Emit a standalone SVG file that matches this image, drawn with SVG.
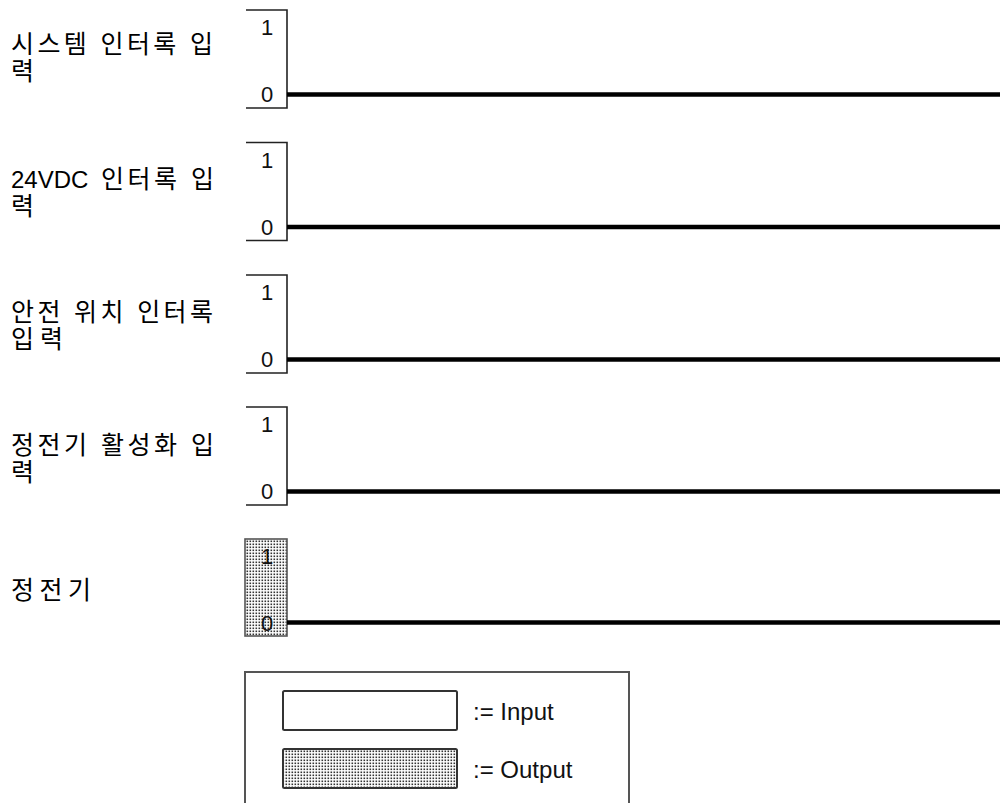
<svg xmlns="http://www.w3.org/2000/svg" width="1000" height="803" viewBox="0 0 1000 803">
<defs>
<pattern id="dots" width="3" height="3" patternUnits="userSpaceOnUse">
<rect width="3" height="3" fill="#ffffff"/>
<rect x="0.5" y="0.5" width="1.6" height="1.6" fill="#333"/>
</pattern>
<style>
.lbl{font-family:"Liberation Sans","Noto Sans CJK KR",sans-serif;font-size:25px;fill:#000}
.lat{font-size:24px}
.dig{font-family:"Liberation Sans",Arial,sans-serif;font-size:22px;fill:#111}
.frame{fill:none;stroke:#222;stroke-width:1.6}
.sig{stroke:#000;stroke-width:4.5;fill:none}
.leg{font-family:"Liberation Sans",Arial,sans-serif;font-size:24px;fill:#111}
</style>
</defs>
<rect width="1000" height="803" fill="#fff"/>

<g id="row1">
<text class="lbl" x="11" y="53" textLength="202" lengthAdjust="spacing">시스템 인터록 입</text>
<text class="lbl" x="11" y="80">력</text>
<path class="frame" d="M246,10 H287 V108 H246"/>
<text class="dig" x="261" y="35">1</text>
<text class="dig" x="261" y="102">0</text>
</g>

<g id="row2">
<text class="lbl" x="11" y="188"><tspan class="lat">24VDC </tspan><tspan x="101" textLength="113" lengthAdjust="spacing">인터록 입</tspan></text>
<text class="lbl" x="11" y="215">력</text>
<path class="frame" d="M246,142.5 H287 V240.5 H246"/>
<text class="dig" x="261" y="167.5">1</text>
<text class="dig" x="261" y="234.5">0</text>
</g>

<g id="row3">
<text class="lbl" x="11" y="321" textLength="202" lengthAdjust="spacing">안전 위치 인터록</text>
<text class="lbl" x="11" y="348" textLength="52" lengthAdjust="spacing">입력</text>
<path class="frame" d="M246,275 H287 V373 H246"/>
<text class="dig" x="261" y="300">1</text>
<text class="dig" x="261" y="367">0</text>
</g>

<g id="row4">
<text class="lbl" x="11" y="454" textLength="203" lengthAdjust="spacing">정전기 활성화 입</text>
<text class="lbl" x="11" y="481">력</text>
<path class="frame" d="M246,407 H287 V505 H246"/>
<text class="dig" x="261" y="432">1</text>
<text class="dig" x="261" y="499">0</text>
</g>

<g id="row5">
<text class="lbl" x="11" y="599" textLength="80" lengthAdjust="spacing">정전기</text>
<rect x="245" y="539" width="42" height="97" fill="url(#dots)" stroke="#555" stroke-width="1.6"/>
<text class="dig" x="261" y="564">1</text>
<text class="dig" x="261" y="631">0</text>
</g>

<g id="signals">
<line class="sig" x1="287" y1="94.5" x2="1000" y2="94.5"/>
<line class="sig" x1="287" y1="227" x2="1000" y2="227"/>
<line class="sig" x1="287" y1="359.5" x2="1000" y2="359.5"/>
<line class="sig" x1="287" y1="491.5" x2="1000" y2="491.5"/>
<line class="sig" x1="287" y1="622.5" x2="1000" y2="622.5"/>
</g>

<g id="legend">
<path d="M245,806 V672 H629 V806" fill="none" stroke="#555" stroke-width="2"/>
<rect x="283" y="691" width="174" height="39" rx="1.5" fill="#fff" stroke="#333" stroke-width="2"/>
<text class="leg" x="473" y="720">:= Input</text>
<rect x="283" y="749" width="174" height="39" rx="1.5" fill="url(#dots)" stroke="#333" stroke-width="2"/>
<text class="leg" x="473" y="778">:= Output</text>
</g>
</svg>
